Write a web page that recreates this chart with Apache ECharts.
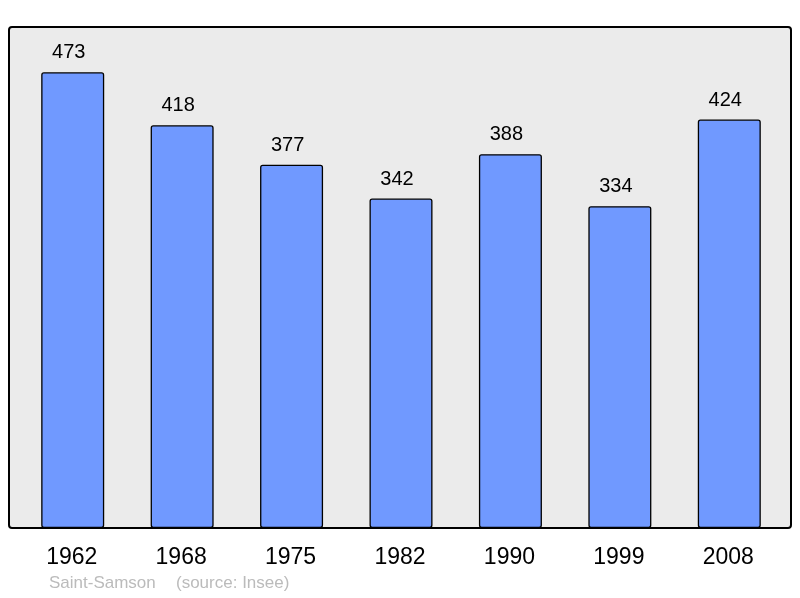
<!DOCTYPE html>
<html lang="fr">
<head>
    <meta charset="UTF-8">
    <title>Saint-Samson population</title>
    <script src="https://cdn.jsdelivr.net/npm/echarts@6.0.0/dist/echarts.min.js"></script>
    <style>
        html, body { margin: 0; padding: 0; background: #fff; }
        #chart { width: 800px; height: 598px; }
    </style>
</head>
<body>
    <div id="chart"></div>
    <script>
        // données
        const years = ['1962', '1968', '1975', '1982', '1990', '1999', '2008'];
        const population = [473, 418, 377, 342, 388, 334, 424];

        const chart = echarts.init(document.getElementById('chart'));

        const font = 'Liberation Sans, Arial, sans-serif';

        const option = {
            animation: false,
            textStyle: { fontFamily: font },
            grid: { left: 18, right: 16, top: 27, bottom: 70 },
            graphic: [
                {
                    type: 'rect',
                    z: -10,
                    shape: { x: 9, y: 27, width: 782, height: 501, r: 3 },
                    style: { fill: '#ebebeb', stroke: '#000', lineWidth: 2 }
                },
                {
                    type: 'text',
                    left: 49,
                    top: 575,
                    style: { text: 'Saint-Samson', fill: '#bbbbbb', fontSize: 17, fontFamily: font }
                },
                {
                    type: 'text',
                    left: 176,
                    top: 575,
                    style: { text: '(source: Insee)', fill: '#bbbbbb', fontSize: 17, fontFamily: font }
                }
            ],
            xAxis: {
                type: 'category',
                data: years,
                axisLine: { show: false },
                axisTick: { show: false },
                axisLabel: { color: '#000', fontSize: 23, margin: 18, padding: [0, 2, 0, 0] }
            },
            yAxis: {
                type: 'value',
                min: 0,
                max: 520,
                show: false
            },
            series: [{
                type: 'bar',
                data: population,
                barWidth: 63,
                itemStyle: {
                    color: '#7099ff',
                    borderColor: '#000',
                    borderWidth: 1.3,
                    borderRadius: 2
                },
                label: {
                    show: true,
                    position: 'top',
                    distance: 9.5,
                    offset: [-4, 0],
                    color: '#000',
                    fontSize: 20
                }
            }]
        };
        chart.setOption(option);
    </script>
</body>
</html>
